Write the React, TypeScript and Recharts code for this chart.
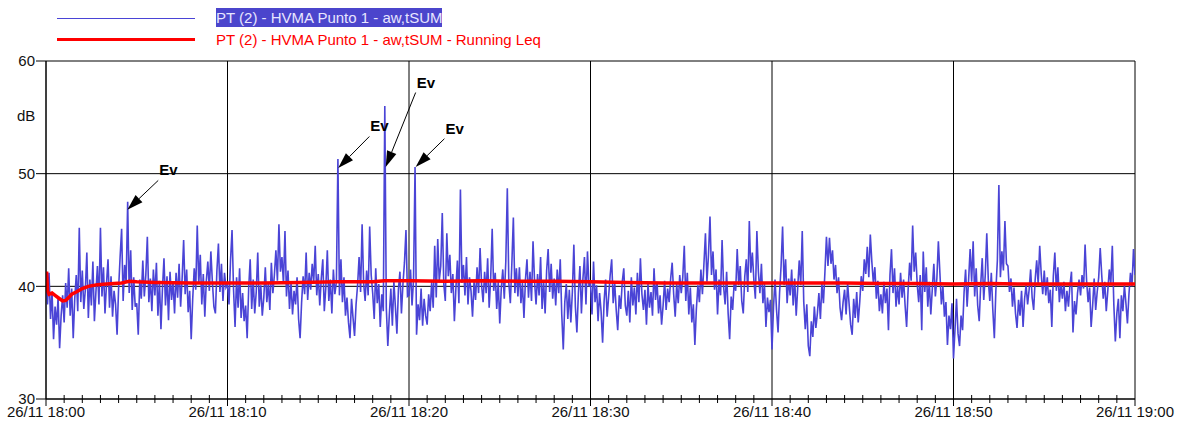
import { LineChart, Line, XAxis, YAxis, CartesianGrid, ReferenceLine } from "recharts";

// 26/11 18:00 -> 19:00, one blue sample every 5 s (12 per minute, one row per minute)
const STEP_S = 5;

const BLUE_1800 = [
  40.6, 38.4, 41.2, 37.1, 39.5, 35.3, 38.2, 36.6, 39.0, 34.5, 37.4, 39.2,
  36.8, 40.3, 38.1, 41.6, 37.4, 39.8, 35.4, 38.9, 41.0, 37.8, 45.2, 38.6,
  41.4, 38.0, 39.7, 43.0, 37.2, 40.6, 38.3, 42.2, 36.9, 39.5, 41.8, 38.4,
  45.2, 39.1, 41.7, 37.6, 40.2, 42.4, 38.1, 40.9, 37.3, 39.6, 38.4, 35.7,
  39.8, 42.6, 45.1, 38.7, 41.9, 40.3, 47.5, 39.4, 43.2, 37.9, 40.8, 38.2,
  38.5, 35.7, 40.6, 38.9, 42.3, 39.1, 41.0, 44.4, 38.6, 40.7, 37.8, 41.5,
  39.2, 42.1, 37.4, 40.5, 36.2, 39.8, 42.5, 38.3, 40.9, 37.0, 41.3, 38.8,
  40.4, 37.6, 41.2, 39.0, 42.0, 38.2, 40.7, 44.1, 39.3, 41.5, 37.7, 39.6,
  35.3, 38.9, 41.6, 39.7, 45.4, 40.2, 42.8, 38.4, 41.1, 37.3, 40.5, 42.2,
  39.6, 43.1, 40.4, 38.2, 37.6, 41.4, 43.8, 39.5, 42.0, 38.7, 41.2, 39.9,
];

const BLUE_1810 = [
  40.2, 38.4, 42.3, 45.0, 39.7, 36.4, 40.8, 38.1, 41.6, 37.2, 39.4, 36.9,
  38.3, 35.4, 39.8, 42.4, 38.0, 40.6, 37.6, 39.5, 43.0, 38.2, 40.1, 37.4,
  39.0, 41.7, 38.6, 40.3, 37.9, 42.1, 39.4, 41.0, 43.2, 40.5, 45.5, 41.3,
  42.6, 40.2, 44.9, 39.1, 41.4, 38.0, 40.3, 37.5, 39.6, 38.4, 40.8, 37.1,
  35.4, 38.6, 40.9, 39.3, 43.0, 38.8, 41.2, 39.7, 42.0, 40.4, 43.6, 39.2,
  41.1, 38.3, 40.7, 42.4, 37.8, 39.9, 43.2, 38.7, 40.6, 37.6, 41.5, 39.3,
  40.4, 51.3, 39.2, 42.4, 38.6, 40.8, 37.4, 39.0, 36.8, 35.4, 38.9, 37.2,
  35.6, 38.4, 40.1, 42.6, 39.5, 45.5, 40.3, 38.7, 41.4, 39.2, 45.3, 41.0,
  39.4, 37.1, 41.6, 38.5, 40.2, 36.4, 39.3, 37.8, 56.0, 38.1, 34.7, 37.5,
  39.8, 36.5, 40.4, 38.2, 35.8, 39.7, 41.3, 37.6, 40.2, 42.1, 45.0, 39.1,
];

const BLUE_1820 = [
  39.2, 41.5, 38.3, 40.6, 50.6, 35.7, 38.4, 37.0, 39.8, 36.5, 38.9, 37.4,
  36.6, 39.3, 37.8, 40.4, 38.1, 43.6, 39.0, 44.2, 40.5, 41.8, 46.5, 40.2,
  38.7, 44.7, 40.9, 42.8, 39.4, 41.1, 36.9, 39.8, 42.3, 38.5, 48.6, 40.3,
  41.9, 39.2, 42.6, 38.4, 40.8, 39.6, 37.3, 40.4, 38.8, 41.7, 39.4, 43.4,
  40.1, 38.6, 41.3, 39.4, 42.5, 38.1, 40.7, 45.1, 39.6, 41.2, 38.0, 40.4,
  36.7, 39.8, 41.5, 38.9, 42.2, 48.7, 40.3, 38.5, 42.0, 46.1, 39.4, 41.6,
  39.1, 41.7, 38.5, 40.3, 37.2, 40.6, 42.4, 39.0, 41.3, 38.7, 44.0, 40.5,
  38.4, 41.1, 39.2, 42.6, 38.0, 40.5, 37.6, 41.4, 43.3, 39.5, 42.0, 38.9,
  40.7, 38.3, 41.5, 39.4, 42.4, 37.5, 34.4, 38.6, 40.2, 37.1, 39.7, 36.8,
  39.5, 43.7, 38.2, 35.9, 39.4, 41.8, 37.6, 40.7, 42.6, 38.4, 43.1, 40.0,
];

const BLUE_1830 = [
  40.3, 37.5, 42.2, 38.6, 40.1, 36.9, 39.4, 37.8, 35.0, 38.7, 40.6, 37.3,
  39.1, 41.0, 42.4, 38.5, 40.3, 37.9, 36.1, 39.2, 38.0, 40.4, 41.6, 38.3,
  37.4, 39.6, 36.8, 40.8, 38.3, 39.9, 37.5, 41.2, 38.6, 42.5, 39.3, 37.9,
  39.7, 36.6, 40.2, 38.1, 39.5, 37.4, 41.6, 38.8, 40.4, 37.6, 39.2, 36.6,
  38.3, 40.5, 37.9, 39.8, 38.6, 40.7, 42.1, 39.3, 37.3, 40.2, 38.5, 41.0,
  39.4, 40.8, 43.6, 38.7, 41.2, 37.5, 39.9, 36.8, 38.4, 34.8, 38.0, 40.1,
  38.6, 41.5, 39.3, 42.0, 44.7, 40.4, 42.8, 46.2, 41.0, 43.1, 39.7, 41.5,
  37.5, 40.6, 39.2, 44.1, 40.0, 38.4, 41.3, 37.6, 35.3, 39.1, 37.9, 40.4,
  39.6, 43.3, 40.1, 41.8, 38.7, 37.6, 40.9, 42.4, 39.5, 45.8, 41.2, 43.0,
  40.6, 38.9, 44.9, 41.3, 39.4, 42.0, 38.5, 40.2, 36.4, 39.0, 37.7, 38.8,
];

const BLUE_1840 = [
  34.4, 38.2, 40.6, 37.9, 35.9, 39.4, 41.8, 45.3, 40.1, 42.4, 38.5, 40.7,
  39.2, 41.5, 38.3, 40.7, 37.4, 39.9, 42.3, 40.1, 44.9, 38.6, 36.2, 38.4,
  34.7, 33.8, 36.9, 35.5, 38.2, 36.3, 37.6, 39.4, 37.1, 40.2, 38.5, 41.3,
  44.4, 41.8, 44.3, 42.0, 43.2, 40.6, 41.9, 39.4, 40.8, 38.1, 37.0, 38.6,
  39.7, 37.5, 40.3, 38.4, 36.6, 35.7, 38.9, 37.2, 39.5, 36.8, 38.6, 40.9,
  39.6, 42.4, 41.1, 43.5, 40.8, 44.6, 42.2, 40.3, 41.7, 38.9, 40.5, 37.8,
  39.3, 37.6, 40.4, 38.5, 39.8, 36.1, 41.0, 43.3, 39.4, 41.6, 38.2, 40.0,
  38.4, 41.2, 39.0, 40.6, 38.3, 36.4, 39.7, 42.1, 40.5, 45.4, 41.3, 43.0,
  40.2, 38.6, 41.0, 36.1, 43.1, 39.5, 41.7, 38.2, 40.4, 37.5, 39.8, 42.0,
  39.1, 40.7, 44.0, 41.2, 38.4, 40.0, 37.3, 38.6, 34.8, 37.4, 36.2, 38.5,
];

const BLUE_1850 = [
  33.6, 36.2, 38.9, 35.8, 34.7, 37.4, 36.1, 39.5, 41.5, 38.2, 40.6, 43.3,
  40.4, 44.0, 39.1, 41.6, 38.3, 36.9, 40.2, 42.5, 38.8, 41.0, 44.7, 40.6,
  38.7, 41.2, 37.9, 35.4, 39.6, 42.3, 49.0, 40.8, 43.1, 41.4, 45.8, 42.0,
  41.8, 39.5, 40.7, 38.2, 39.9, 37.6, 36.3, 38.8, 37.4, 39.6, 36.4, 38.9,
  40.1, 38.4, 39.7, 41.5, 39.0, 37.9, 40.6, 42.3, 40.2, 43.6, 41.1, 39.3,
  41.4, 39.2, 40.8, 38.5, 39.7, 36.4, 40.9, 43.0, 39.6, 41.7, 38.6, 40.2,
  38.9, 40.4, 37.8, 39.6, 38.2, 40.1, 41.3, 35.9, 38.7, 37.5, 39.4, 40.6,
  39.2, 41.0, 39.8, 43.7, 40.5, 38.6, 39.9, 36.4, 38.3, 40.7, 37.9, 39.5,
  40.8, 43.4, 41.0, 38.9, 40.4, 37.8, 39.6, 41.5, 40.2, 43.6, 38.4, 35.1,
  37.6, 38.9, 35.4, 39.2, 37.8, 40.1, 38.5, 36.7, 39.3, 41.2, 40.0, 43.3,
  41.0,
];

// running Leq (seconds from 18:00, dB)
const LEQ_T = [
  0, 2, 5, 10, 20, 30, 45, 55, 65, 75, 85, 100, 120, 140, 170, 200, 250, 275,
  300, 360, 480, 600, 720, 840, 960, 1080, 1120, 1200, 1320, 1440, 1560, 1680,
  1800, 1920, 2040, 2160, 2280, 2400, 2520, 2640, 2760, 2880, 3000, 3120, 3240,
  3360, 3480, 3600,
];
const LEQ_DB = [
  41.0, 41.3, 39.6, 39.3, 39.4, 39.2, 38.9, 38.7, 38.75, 39.0, 39.3, 39.5, 39.8,
  40.0, 40.15, 40.2, 40.3, 40.45, 40.4, 40.35, 40.3, 40.3, 40.3, 40.35, 40.4,
  40.4, 40.5, 40.5, 40.45, 40.5, 40.45, 40.45, 40.4, 40.35, 40.3, 40.3, 40.3,
  40.3, 40.3, 40.3, 40.25, 40.25, 40.2, 40.25, 40.2, 40.2, 40.2, 40.2,
];

// "Ev" markers: arrow tail (label) -> arrow tip
const EV_FROM_T = [371, 1069, 1222, 1317];
const EV_FROM_DB = [49.4, 53.3, 57.2, 53.1];
const EV_TIP_T = [269, 966, 1123, 1222];
const EV_TIP_DB = [46.8, 50.5, 50.6, 50.6];

const MAJOR_T = [0, 600, 1200, 1800, 2400, 3000, 3600];
const TICK_LABELS = [
  "26/11 18:00",
  "26/11 18:10",
  "26/11 18:20",
  "26/11 18:30",
  "26/11 18:40",
  "26/11 18:50",
  "26/11 19:00",
];
const MINOR_T = Array.from({ length: 61 }, (_, i) => i * 60);
const Y_TICKS = [30, 40, 50, 60];

const SERIES_NAME = "PT (2) - HVMA Punto 1 - aw,tSUM";
const LEQ_NAME = "PT (2) - HVMA Punto 1 - aw,tSUM - Running Leq";

const BLUE = "#4a44d6";
const RED = "#ff0000";
const FONT = "Arial, 'Liberation Sans', sans-serif";

const blueData = [
  ...BLUE_1800,
  ...BLUE_1810,
  ...BLUE_1820,
  ...BLUE_1830,
  ...BLUE_1840,
  ...BLUE_1850,
].map((v, i) => ({ t: i * STEP_S, v }));

const leqData = LEQ_T.map((t, i) => ({ t, v: LEQ_DB[i] }));

function TimeTick(props: any) {
  const { x, y, payload } = props;
  const t = payload.value as number;
  const idx = MAJOR_T.indexOf(t);
  const major = idx >= 0;
  return (
    <g>
      <line
        x1={x}
        x2={x}
        y1={major ? y : y - 4}
        y2={major ? y + 7 : y + 4}
        stroke="#000"
        strokeWidth={1}
      />
      {major && (
        <text x={x} y={y + 18} textAnchor="middle" fontSize={15} fill="#111">
          {TICK_LABELS[idx]}
        </text>
      )}
    </g>
  );
}

function EvArrow(props: any) {
  const { x1, y1, x2, y2 } = props;
  const dx = x2 - x1;
  const dy = y2 - y1;
  const len = Math.hypot(dx, dy) || 1;
  const ux = dx / len;
  const uy = dy / len;
  const head = 16;
  const half = 5;
  const bx = x2 - ux * head;
  const by = y2 - uy * head;
  const pts = `${x2},${y2} ${bx - uy * half},${by + ux * half} ${bx + uy * half},${by - ux * half}`;
  return (
    <g>
      <line x1={x1} y1={y1} x2={bx} y2={by} stroke="#000" strokeWidth={1} />
      <polygon points={pts} fill="#000" />
      <text x={x1 + 1} y={y1 - 5} fontSize={15} fontWeight="bold" fill="#000">
        Ev
      </text>
    </g>
  );
}

export default function App() {
  return (
    <div
      style={{
        position: "absolute",
        left: 0,
        top: 0,
        width: 1192,
        height: 432,
        background: "#fff",
        fontFamily: FONT,
      }}
    >
      {/* legend */}
      <div style={{ position: "absolute", left: 57, top: 18, width: 138, height: 1, background: BLUE }} />
      <div
        style={{
          position: "absolute",
          left: 216,
          top: 8,
          height: 19,
          lineHeight: "19px",
          fontSize: 15,
          color: "#e8e6ff",
          background: "#4b45cc",
          whiteSpace: "nowrap",
        }}
      >
        {SERIES_NAME}
      </div>
      <div style={{ position: "absolute", left: 57, top: 38, width: 138, height: 3, background: RED }} />
      <div
        style={{
          position: "absolute",
          left: 216,
          top: 30,
          height: 19,
          lineHeight: "19px",
          fontSize: 15,
          color: RED,
          whiteSpace: "nowrap",
        }}
      >
        {LEQ_NAME}
      </div>
      <div style={{ position: "absolute", left: 17, top: 107, fontSize: 15, color: "#111" }}>dB</div>

      <LineChart
        width={1192}
        height={432}
        margin={{ top: 61, right: 57, left: 0, bottom: 0 }}
      >
        <CartesianGrid
          stroke="#000"
          strokeWidth={1}
          verticalValues={MAJOR_T}
          horizontalValues={Y_TICKS}
        />
        <XAxis
          type="number"
          dataKey="t"
          domain={[0, 3600]}
          ticks={MINOR_T}
          interval={0}
          height={33}
          tickSize={0}
          tickMargin={0}
          tickLine={false}
          axisLine={{ stroke: "#000" }}
          tick={<TimeTick />}
          allowDataOverflow
        />
        <YAxis
          type="number"
          domain={[30, 60]}
          ticks={Y_TICKS}
          width={46}
          tickSize={10}
          tickMargin={1}
          tickLine={{ stroke: "#000" }}
          axisLine={{ stroke: "#000" }}
          tick={{ fontSize: 15, fill: "#111" }}
          allowDataOverflow
        />
        <Line
          data={blueData}
          dataKey="v"
          type="linear"
          stroke={BLUE}
          strokeWidth={1.6}
          dot={false}
          activeDot={false}
          isAnimationActive={false}
        />
        <Line
          data={leqData}
          dataKey="v"
          type="linear"
          stroke={RED}
          strokeWidth={3.5}
          dot={false}
          activeDot={false}
          isAnimationActive={false}
        />
        {EV_TIP_T.map((t, i) => (
          <ReferenceLine
            key={i}
            ifOverflow="visible"
            segment={[
              { x: EV_FROM_T[i], y: EV_FROM_DB[i] },
              { x: t, y: EV_TIP_DB[i] },
            ]}
            shape={(p: any) => <EvArrow {...p} />}
          />
        ))}
      </LineChart>
    </div>
  );
}
